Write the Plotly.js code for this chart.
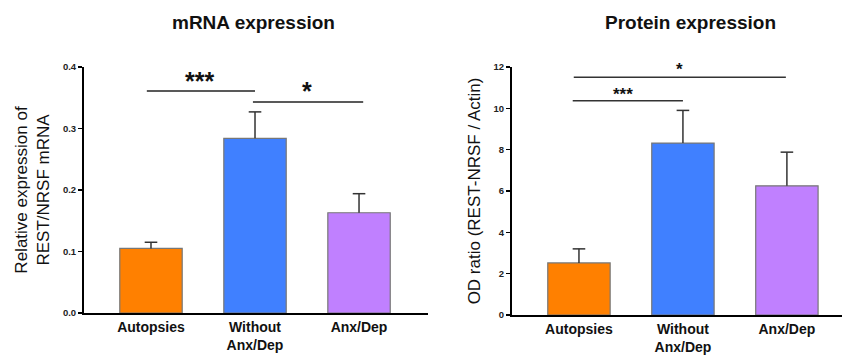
<!DOCTYPE html>
<html><head><meta charset="utf-8">
<script src="https://cdn.plot.ly/plotly-3.0.1.min.js"></script>
<style>html,body{margin:0;padding:0;background:#fff}#g{width:842px;height:355px}</style>
</head><body><div id="g"></div>
<script>
const categories = [0, 1, 2];
const tickLabels = ["Autopsies", "Without<br>Anx/Dep", "Anx/Dep"];
const colors = ["#FF8000", "#4080FF", "#C080FF"];
const mrnaValues = [0.105, 0.284, 0.163];
const mrnaErrTop = [0.115, 0.327, 0.194];
const proteinValues = [2.52, 8.32, 6.25];
const proteinErrTop = [3.2, 9.9, 7.88];
// significance brackets: [fromCat, toCat, level, label, labelLevel, labelCat]
const mrnaSig = [[-0.04, 1.0, 0.361, "***", 0.378, 0.47], [0.98, 2.04, 0.343, "*", 0.361, 1.5]];
const proteinSig = [[-0.05, 1.99, 11.5, "*", 11.9, 0.97], [-0.06, 1.0, 10.37, "***", 10.65, 0.42]];

function diff(a, b) { return a.map((v, i) => +(v - b[i]).toFixed(4)); }

const fam = "Arial, Liberation Sans, sans-serif";
const barLine = {color: "#777", width: 1.2};
const whisker = {type: "data", symmetric: false, color: "#333", thickness: 1.5, width: 0};

function panel(values, tops, xa, ya) {
  return [
    {type: "bar", x: categories, y: values, xaxis: xa, yaxis: ya, width: 0.6,
     marker: {color: colors, line: barLine}, hoverinfo: "none"},
    // upper whisker hanging down from the error top, with a cap marker on top
    {type: "scatter", mode: "markers", x: categories, y: tops, xaxis: xa, yaxis: ya, cliponaxis: false,
     marker: {symbol: "line-ew", size: 9, color: "#333", line: {color: "#333", width: 1.5}},
     error_y: Object.assign({array: [0, 0, 0], arrayminus: diff(tops, values)}, whisker), hoverinfo: "none"}
  ];
}
const traces = panel(mrnaValues, mrnaErrTop, "x", "y").concat(panel(proteinValues, proteinErrTop, "x2", "y2"));

const font = {family: fam, color: "#111"};
const tickFont = {family: fam, size: 9.5, color: "#222", weight: "bold"};
const catFont = {family: fam, size: 14, color: "#111", weight: "bold"};

const xBase = {tickmode: "array", tickvals: categories, ticktext: tickLabels, tickfont: catFont,
  showline: true, linecolor: "#000", linewidth: 2, ticks: "", showgrid: false, zeroline: false, fixedrange: true};
const yBase = {showline: true, linecolor: "#000", linewidth: 2, ticks: "outside", ticklen: 4, tickwidth: 1.5,
  tickcolor: "#000", showgrid: false, zeroline: false, tickfont: tickFont, fixedrange: true};

const y1dom = [(355-313)/355, (355-67)/355];
const y2dom = [(355-315)/355, (355-67)/355];
const y2max = 12;

const shapes = [], annotations = [];
mrnaSig.forEach(s => {
  shapes.push({type: "line", xref: "x", yref: "y", x0: s[0], x1: s[1], y0: s[2], y1: s[2], line: {color: "#222", width: 1.5}});
  annotations.push({xref: "x", yref: "y", x: s[5], y: s[4], text: s[3], showarrow: false, yanchor: "middle",
    font: {family: fam, size: 25, color: "#111", weight: "bold"}});
});
proteinSig.forEach(s => {
  shapes.push({type: "line", xref: "x2", yref: "y2", x0: s[0], x1: s[1], y0: s[2], y1: s[2], line: {color: "#333", width: 1.5}});
  annotations.push({xref: "x2", yref: "paper", x: s[5], y: y2dom[0] + (s[4] / y2max) * (y2dom[1] - y2dom[0]),
    yanchor: "middle", text: s[3], showarrow: false, font: {family: fam, size: 17, color: "#111", weight: "bold"}});
});
annotations.push({xref: "paper", yref: "paper", x: 253/842, y: (355-22)/355, yanchor: "middle", xanchor: "center",
  text: "<b>mRNA expression</b>", showarrow: false, font: {family: fam, size: 19, color: "#111"}});
annotations.push({xref: "paper", yref: "paper", x: 690/842, y: (355-22)/355, yanchor: "middle", xanchor: "center",
  text: "<b>Protein expression</b>", showarrow: false, font: {family: fam, size: 19, color: "#111"}});

const layout = {
  width: 842, height: 355, margin: {l: 0, r: 0, t: 0, b: 0},
  paper_bgcolor: "#fff", plot_bgcolor: "#fff", showlegend: false, font: font,
  xaxis: Object.assign({}, xBase, {domain: [84/842, 428/842], range: [-0.644, 2.663], anchor: "y"}),
  yaxis: Object.assign({}, yBase, {domain: y1dom, range: [0, 0.4], dtick: 0.1, tickformat: ".1f", anchor: "x",
    title: {text: "Relative expression of<br>REST/NRSF mRNA", font: {family: fam, size: 17, color: "#111"}, standoff: 9}}),
  xaxis2: Object.assign({}, xBase, {domain: [512/842, 1], range: [-0.644, 2.53], anchor: "y2"}),
  yaxis2: Object.assign({}, yBase, {domain: y2dom, range: [0, y2max], dtick: 2, anchor: "x2",
    title: {text: "OD ratio (REST-NRSF / Actin)", font: {family: fam, size: 17, color: "#111"}, standoff: 9}}),
  shapes: shapes, annotations: annotations
};
Plotly.newPlot("g", traces, layout, {staticPlot: true, displayModeBar: false});
</script></body></html>
